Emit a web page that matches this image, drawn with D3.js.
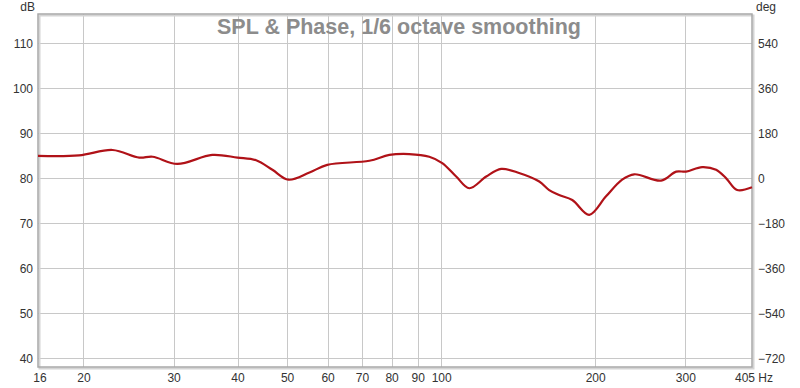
<!DOCTYPE html>
<html>
<head>
<meta charset="utf-8">
<script src="https://cdn.jsdelivr.net/npm/d3@7"></script>
<style>
body{margin:0;background:#fff;}
svg{display:block;font-family:"Liberation Sans",Arial,sans-serif;}
</style>
</head>
<body>
<div id="plot"></div>
<script>
// data
var freqs = [16.3, 19.6, 22.8, 25.7, 27.3, 30.5, 35.7, 40.0, 43.5, 46.8, 50.3, 55.3, 59.9, 72.4, 79.2, 86.6, 94.8, 100.5, 107, 113.5, 122.5, 131, 142, 155.5, 162.6, 170, 180.4, 194.7, 210, 225.8, 238.4, 269, 288, 301, 323.6, 344.6, 360.6, 378.8, 405];
var spl = [85.0, 85.1, 86.3, 84.6, 84.8, 83.2, 85.2, 84.6, 84.0, 81.9, 79.7, 81.3, 83.0, 83.9, 85.2, 85.4, 84.8, 83.4, 80.4, 77.8, 80.4, 82.1, 81.2, 79.3, 77.4, 76.3, 75.2, 71.9, 76.0, 79.7, 80.9, 79.5, 81.5, 81.5, 82.5, 81.9, 80.0, 77.4, 78.0];
var xTicks = [20, 30, 40, 50, 60, 70, 80, 90, 100, 200, 300];
var dbTicks = [40, 50, 60, 70, 80, 90, 100, 110];
var degTicks = [-720, -540, -360, -180, 0, 180, 360, 540];

var W = 800, H = 388;
var m = {l:38, t:14, r:48, b:21};

var svg = d3.select('#plot').append('svg').attr('width', W).attr('height', H);

var x = d3.scaleLog().domain([16.3, 405]).range([m.l, W - m.r]);
var y = d3.scaleLinear().domain([38.1, 116.5]).range([H - m.b, m.t]);
var yDeg = d3.scaleLinear().domain([(38.1 - 80) * 18, (116.5 - 80) * 18]).range([H - m.b, m.t]);

// grid
var grid = svg.append('g').attr('stroke', '#c8c8c8').attr('stroke-width', 1);
xTicks.forEach(function (t) {
	grid.append('line').attr('x1', Math.round(x(t)) + 0.5).attr('x2', Math.round(x(t)) + 0.5)
		.attr('y1', m.t).attr('y2', H - m.b);
});
dbTicks.forEach(function (t) {
	grid.append('line').attr('y1', Math.round(y(t)) + 0.5).attr('y2', Math.round(y(t)) + 0.5)
		.attr('x1', m.l).attr('x2', W - m.r);
});

// frame with a soft shadow
svg.append('rect').attr('x', m.l + 1.5).attr('y', m.t + 1.5)
	.attr('width', W - m.l - m.r).attr('height', H - m.t - m.b)
	.attr('fill', 'none').attr('stroke', '#d4d4d4').attr('stroke-width', 2);
svg.append('rect').attr('x', m.l).attr('y', m.t)
	.attr('width', W - m.l - m.r).attr('height', H - m.t - m.b)
	.attr('fill', 'none').attr('stroke', '#a8a8a8').attr('stroke-width', 1.5);

// axes
var axL = d3.axisLeft(y).tickValues(dbTicks).tickSize(0).tickPadding(5);
var axR = d3.axisRight(yDeg).tickValues(degTicks).tickSize(0).tickPadding(4);
var axB = d3.axisBottom(x).tickValues([16].concat(xTicks)).tickFormat(d3.format('d')).tickSize(0).tickPadding(6);

function style(g) {
	g.select('.domain').remove();
	g.selectAll('text').attr('fill', '#333').style('font-size', '12px')
		.style('font-family', '"Liberation Sans",Arial,sans-serif');
}
svg.append('g').attr('transform', 'translate(' + m.l + ',0)').call(axL).call(style);
svg.append('g').attr('transform', 'translate(' + (W - m.r + 2) + ',0)').call(axR).call(style);
var gb = svg.append('g').attr('transform', 'translate(0,' + (H - m.b) + ')').call(axB).call(style);
gb.selectAll('.tick').filter(function (d) { return d === 16; }).attr('transform', 'translate(' + (x(16.3) + 2) + ',0)');

svg.append('text').attr('x', 735).attr('y', H - 6).attr('fill', '#333').style('font-size', '12px').text('405 Hz');
svg.append('text').attr('x', 35).attr('y', 11).attr('text-anchor', 'end').attr('fill', '#333').style('font-size', '12px').text('dB');
svg.append('text').attr('x', 756).attr('y', 11).attr('fill', '#333').style('font-size', '12px').text('deg');

// title
svg.append('text').attr('x', 399).attr('y', 34).attr('text-anchor', 'middle')
	.attr('fill', '#8c8c8c').style('font-size', '21.5px').style('font-weight', 'bold')
	.text('SPL & Phase, 1/6 octave smoothing');

// SPL curve
var pts = freqs.map(function (f, i) { return [f, spl[i]]; });
var line = d3.line().x(function (d) { return x(d[0]); }).y(function (d) { return y(d[1]); })
	.curve(d3.curveCatmullRom.alpha(0.5));
svg.append('path').datum(pts).attr('d', line)
	.attr('fill', 'none').attr('stroke', '#b01218').attr('stroke-width', 2.2).attr('stroke-linejoin', 'round');
</script>
</body>
</html>
